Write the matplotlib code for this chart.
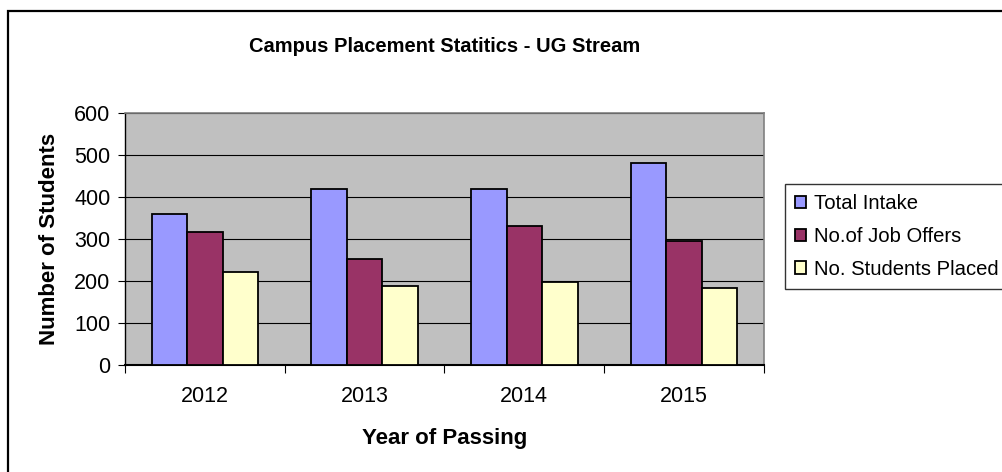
import numpy as np
import matplotlib.pyplot as plt
from matplotlib.patches import Rectangle

plt.rcParams['font.family'] = ['Liberation Sans', 'DejaVu Sans']

years = ['2012', '2013', '2014', '2015']
total_intake = [360, 420, 420, 480]
job_offers = [317, 253, 332, 295]
students_placed = [222, 189, 198, 184]

series_names = ['Total Intake', 'No.of Job Offers', 'No. Students Placed']
colors = ['#9999FF', '#993366', '#FFFFCC']

fig = plt.figure(figsize=(10.03, 4.72), dpi=100)
ax = fig.add_axes([125 / 1003, 1 - 365 / 472, 639 / 1003, 252 / 472])
ax.set_facecolor('#C0C0C0')

x = np.arange(len(years))
w = 0.222
for i, (vals, name, c) in enumerate(zip([total_intake, job_offers, students_placed], series_names, colors)):
    ax.bar(x + (i - 1) * w, vals, width=w, color=c, edgecolor='black', linewidth=1.3,
           label=name, zorder=3)

ax.set_xlim(-0.5, 3.5)
ax.set_ylim(0, 600)
ax.set_yticks(range(0, 601, 100))
ax.yaxis.grid(True, color='black', linewidth=0.8, zorder=1)
ax.set_axisbelow(True)

# category ticks sit between groups, labels centred under them
ax.set_xticks(np.arange(-0.5, 4, 1))
ax.set_xticklabels([])
ax.set_xticks(x, minor=True)
ax.set_xticklabels(years, minor=True)
ax.tick_params(axis='x', which='minor', length=0, pad=15, labelsize=15.5)
ax.tick_params(axis='x', which='major', length=6, direction='out', color='black')
ax.tick_params(axis='y', length=5, direction='out', labelsize=15.5, pad=5.5)

ax.spines['top'].set_color('#808080')
ax.spines['right'].set_color('#808080')
ax.spines['top'].set_linewidth(1.2)
ax.spines['right'].set_linewidth(1.2)
ax.spines['left'].set_linewidth(1.0)
ax.spines['bottom'].set_linewidth(1.5)

ax.set_ylabel('Number of Students', fontsize=16, fontweight='bold', labelpad=10)
ax.set_xlabel('Year of Passing', fontsize=16, fontweight='bold', labelpad=15)
fig.text(445 / 1003, 1 - 46 / 472, 'Campus Placement Statitics - UG Stream',
         ha='center', va='center', fontsize=14.5, fontweight='bold')

leg = fig.legend(loc='upper left', bbox_to_anchor=(785 / 1003, 1 - 184 / 472),
                 fontsize=14.6, frameon=True, fancybox=False, edgecolor='black',
                 handlelength=0.55, handleheight=0.55, handletextpad=0.4,
                 labelspacing=0.68, borderpad=0.5, borderaxespad=0)
leg.get_frame().set_linewidth(1.0)

# outer chart border (runs off the right and bottom edges)
fig.patches.append(Rectangle((8 / 1003, -0.1), 1.2, 1.1 - 11 / 472, transform=fig.transFigure,
                             fill=False, edgecolor='black', linewidth=1.6))

fig.savefig('out.png', dpi=100)
